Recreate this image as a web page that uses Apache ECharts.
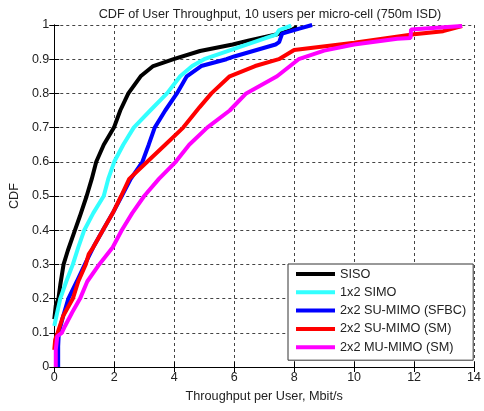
<!DOCTYPE html>
<html lang="en">
<head>
    <meta charset="UTF-8">
    <title>CDF of User Throughput</title>
    <style type="text/css">
        * {
            margin: 0;
            padding: 0;
        }

        html, body {
            width: 100%;
            height: 100%;
            background: #fff;
        }

        #chart-panel {
            width: 484px;
            height: 411px;
        }
    </style>
</head>
<body>

<div id="chart-panel"></div>

<script src="https://cdn.jsdelivr.net/npm/echarts@6/dist/echarts.min.js"></script>
<script>

    // [throughput Mbit/s, CDF]
    let siso = [[0, 0.14], [0.05, 0.18], [0.14, 0.2], [0.2, 0.24], [0.31, 0.3], [0.45, 0.34], [0.69, 0.4],
        [0.85, 0.44], [1.08, 0.5], [1.25, 0.55], [1.4, 0.6], [1.65, 0.65], [1.99, 0.7], [2.2, 0.75],
        [2.47, 0.8], [2.88, 0.85], [3.3, 0.88], [3.98, 0.9], [4.86, 0.924], [5.95, 0.943], [6.5, 0.955],
        [7.4, 0.972], [7.9, 0.985], [8.1, 0.995]];
    let simo = [[0, 0.12], [0.1, 0.16], [0.2, 0.2], [0.4, 0.25], [0.62, 0.3], [0.8, 0.35], [1.0, 0.4],
        [1.3, 0.45], [1.65, 0.5], [1.8, 0.55], [2.0, 0.6], [2.3, 0.65], [2.65, 0.7], [3.2, 0.75],
        [3.76, 0.8], [4.2, 0.85], [4.6, 0.88], [5.0, 0.9], [5.95, 0.929], [7.0, 0.96], [7.4, 0.972],
        [7.5, 0.985], [7.9, 0.998]];
    let suSfbc = [[0.13, 0], [0.13, 0.06], [0.15, 0.1], [0.3, 0.15], [0.47, 0.2], [0.75, 0.25], [1.02, 0.3],
        [1.3, 0.35], [1.62, 0.4], [1.95, 0.45], [2.25, 0.5], [2.55, 0.55], [2.94, 0.6], [3.15, 0.65],
        [3.35, 0.7], [3.7, 0.75], [4.09, 0.8], [4.42, 0.85], [4.9, 0.88], [5.74, 0.9], [6.0, 0.908],
        [7.38, 0.943], [7.5, 0.95], [7.6, 0.975], [8.2, 0.99], [8.6, 1.0]];
    let suSm = [[0, 0.05], [0.03, 0.08], [0.11, 0.1], [0.3, 0.15], [0.62, 0.2], [0.8, 0.25], [1.05, 0.3],
        [1.15, 0.33], [1.3, 0.35], [1.62, 0.4], [1.95, 0.45], [2.23, 0.5], [2.5, 0.55], [3.1, 0.6],
        [3.7, 0.65], [4.3, 0.7], [4.85, 0.76], [5.24, 0.8], [5.85, 0.85], [6.7, 0.88], [7.49, 0.9],
        [8.0, 0.927], [10.0, 0.948], [12.0, 0.973], [12.97, 0.982], [13.6, 0.997]];
    let muSm = [[0.05, 0], [0.05, 0.05], [0.1, 0.09], [0.25, 0.1], [0.36, 0.12], [0.6, 0.16], [0.86, 0.2],
        [1.1, 0.25], [1.5, 0.3], [1.95, 0.35], [2.25, 0.4], [2.6, 0.45], [3.0, 0.5], [3.49, 0.55],
        [4.05, 0.6], [4.5, 0.65], [5.1, 0.7], [5.85, 0.75], [6.4, 0.8], [7.43, 0.85], [8.15, 0.9],
        [9.0, 0.925], [10.0, 0.943], [11.44, 0.96], [11.88, 0.962], [11.9, 0.987], [13.6, 0.997]];

    let names = ['SISO', '1x2 SIMO', '2x2 SU-MIMO (SFBC)', '2x2 SU-MIMO (SM)', '2x2 MU-MIMO (SM)'];
    let colors = ['#000000', '#33ffff', '#0000ff', '#ff0000', '#ff00ff'];
    let allData = [siso, simo, suSfbc, suSm, muSm];

    let xTicks = [0, 14, 2];     // min, max, interval
    let yTicks = [0, 1, 0.1];

    const font = 'Liberation Sans, Arial, sans-serif';

    var myChart = echarts.init(document.getElementById('chart-panel'));

    let gridLine = {
        show: true,
        lineStyle: {
            color: '#444',
            type: [3, 3],
            width: 1
        }
    };
    let tickIn = {
        show: true,
        inside: true,
        length: 5,
        lineStyle: { color: '#000' }
    };

    var option = {
        animation: false,
        backgroundColor: '#fff',
        title: {
            text: 'CDF of User Throughput, 10 users per micro-cell (750m ISD)',
            left: 265,
            textAlign: 'center',
            top: 3,
            textStyle: {
                fontFamily: font,
                fontSize: 12.7,
                fontWeight: 'normal',
                color: '#222'
            }
        },
        legend: {
            orient: 'vertical',
            left: 288,
            top: 264,
            padding: [3, 7, 6, 8],
            itemGap: 4.3,
            itemWidth: 39,
            itemHeight: 4,
            icon: 'rect',
            backgroundColor: '#fff',
            borderColor: '#333',
            borderWidth: 1,
            textStyle: {
                fontFamily: font,
                fontSize: 12.7,
                lineHeight: 14,
                color: '#222'
            },
            data: names
        },
        grid: {
            left: 52,
            right: 6,
            top: 25,
            bottom: 44
        },
        xAxis: [{
            type: 'value',
            min: xTicks[0],
            max: xTicks[1],
            interval: xTicks[2],
            name: 'Throughput per User, Mbit/s',
            nameLocation: 'middle',
            nameGap: 23,
            nameTextStyle: { fontFamily: font, fontSize: 12.7, color: '#222' },
            axisLine: { lineStyle: { color: '#000' } },
            axisTick: tickIn,
            axisLabel: { fontFamily: font, fontSize: 12.5, color: '#222', margin: 4 },
            splitLine: gridLine
        }, {
            type: 'value',
            position: 'top',
            min: xTicks[0],
            max: xTicks[1],
            interval: xTicks[2],
            axisLine: { show: true, lineStyle: { color: '#000' } },
            axisTick: tickIn,
            axisLabel: { show: false },
            splitLine: { show: false }
        }],
        yAxis: [{
            type: 'value',
            min: yTicks[0],
            max: yTicks[1],
            interval: yTicks[2],
            name: 'CDF',
            nameLocation: 'middle',
            nameGap: 33,
            nameTextStyle: { fontFamily: font, fontSize: 12.7, color: '#222' },
            axisLine: { show: true, lineStyle: { color: '#000' } },
            axisTick: tickIn,
            axisLabel: { fontFamily: font, fontSize: 12.5, color: '#222', margin: 5 },
            splitLine: gridLine
        }, {
            type: 'value',
            position: 'right',
            min: yTicks[0],
            max: yTicks[1],
            interval: yTicks[2],
            axisLine: { show: true, lineStyle: { color: '#000' } },
            axisTick: tickIn,
            axisLabel: { show: false },
            splitLine: { show: false }
        }],
        series: allData.map((d, i) => ({
            name: names[i],
            type: 'line',
            showSymbol: false,
            symbol: 'none',
            color: colors[i],
            lineStyle: {
                width: 4,
                color: colors[i]
            },
            data: d
        }))
    };
    myChart.setOption(option);
</script>
</body>
</html>
